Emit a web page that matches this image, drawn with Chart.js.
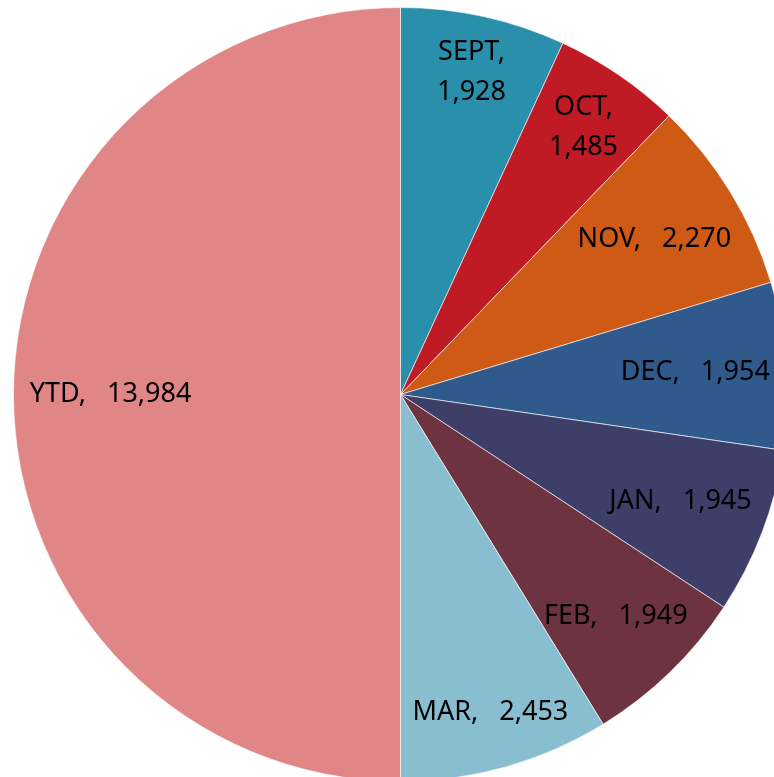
<!DOCTYPE html>
<html>
<head>
<meta charset="utf-8">
<script src="https://cdn.jsdelivr.net/npm/chart.js@4"></script>
<style>
  html, body { margin: 0; padding: 0; background: #fff; overflow: hidden; }
  #wrap { position: absolute; left: 13px; top: 7px; width: 775px; height: 775px; }
</style>
</head>
<body>
<div id="wrap"><canvas id="chart-canvas"></canvas></div>
<script>
const labels = ['SEPT', 'OCT', 'NOV', 'DEC', 'JAN', 'FEB', 'MAR', 'YTD'];
const values = [1928, 1485, 2270, 1954, 1945, 1949, 2453, 13984];
const colors = [
    '#2a8fab',
    '#c01b25',
    '#cf5a16',
    '#305a8c',
    '#3d3f69',
    '#6d3340',
    '#89bed1',
    '#e08686',
];

const FONT = '27px "Noto Sans"';
const SEP = ',   ';
const LINE_H = 40;
const TEXT_H = 26;
const MARGIN = 16;
const TOL = 0.012;

// find where a label box sits inside the slice, pushed out toward the rim
function placeLabel(arc, ctx, lines) {
    const w = Math.max(...lines.map(l => ctx.measureText(l).width));
    const h = LINE_H * (lines.length - 1) + TEXT_H;
    const mid = (arc.startAngle + arc.endAngle) / 2;
    const dx = Math.cos(mid), dy = Math.sin(mid);
    const limit = arc.outerRadius - MARGIN;
    const corners = (r) => {
        const cx = r * dx, cy = r * dy;
        return [[cx - w / 2, cy - h / 2], [cx + w / 2, cy - h / 2],
                [cx - w / 2, cy + h / 2], [cx + w / 2, cy + h / 2]];
    };
    let lo = 0, hi = arc.outerRadius;
    for (let k = 0; k < 40; k++) {
        const r = (lo + hi) / 2;
        const far = Math.max(...corners(r).map(p => Math.hypot(p[0], p[1])));
        if (far <= limit) lo = r; else hi = r;
    }
    const r = lo;
    const s = arc.startAngle - TOL;
    const ok = corners(r).every(p => {
        let a = Math.atan2(p[1], p[0]);
        while (a < s) a += Math.PI * 2;
        while (a >= s + Math.PI * 2) a -= Math.PI * 2;
        return a <= arc.endAngle + TOL;
    });
    return { x: arc.x + r * dx, y: arc.y + r * dy, ok: ok };
}

const sliceLabels = {
    id: 'sliceLabels',
    afterDatasetsDraw(chart) {
        const ctx = chart.ctx;
        const meta = chart.getDatasetMeta(0);
        ctx.save();
        ctx.font = FONT;
        ctx.fillStyle = '#000';
        ctx.textAlign = 'center';
        ctx.textBaseline = 'middle';
        meta.data.forEach((arc, i) => {
            const val = values[i].toLocaleString('en-US');
            let lines = [labels[i] + SEP + val];
            let pos = placeLabel(arc, ctx, lines);
            if (!pos.ok) {
                lines = [labels[i] + ',', val];
                pos = placeLabel(arc, ctx, lines);
            }
            lines.forEach((l, j) => {
                ctx.fillText(l, pos.x, pos.y + (j - (lines.length - 1) / 2) * LINE_H);
            });
        });
        ctx.restore();
    }
};

const data = {
    labels: labels,
    datasets: [{
        data: values,
        backgroundColor: colors,
        borderColor: 'rgba(255,255,255,0.6)',
        borderWidth: 1,
        hoverOffset: 0,
    }]
};

const config = {
    type: 'pie',
    data,
    options: {
        responsive: true,
        maintainAspectRatio: false,
        animation: false,
        layout: { padding: 0 },
        plugins: {
            legend: { display: false },
            tooltip: { enabled: false },
        }
    },
    plugins: [sliceLabels]
};

let myChart = new Chart(document.getElementById('chart-canvas'), config);
</script>
</body>
</html>
